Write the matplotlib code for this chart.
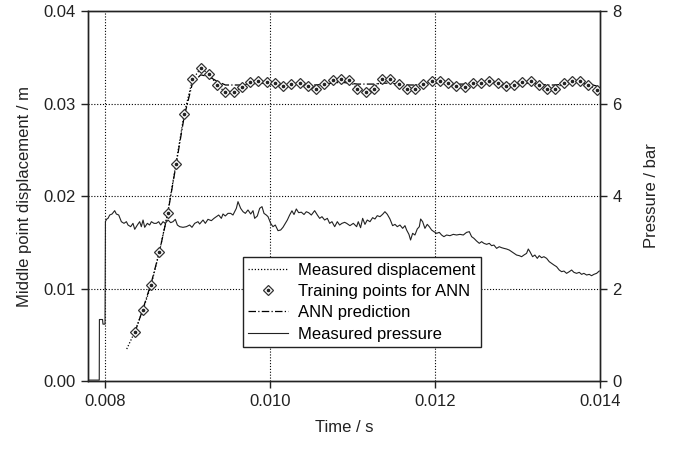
import matplotlib
matplotlib.use("Agg")
import matplotlib.pyplot as plt
from matplotlib.legend_handler import HandlerTuple

plt.rcParams['font.family'] = ['Liberation Sans', 'DejaVu Sans']

# Training points for ANN (time / s, displacement / m)
train_t = [0.00836, 0.00846, 0.00856, 0.00866, 0.00876, 0.00886, 0.00896, 0.00906,
           0.00916, 0.00926, 0.00936, 0.00946, 0.00956, 0.00966, 0.00976, 0.00986,
           0.00996, 0.01006, 0.01016, 0.01026, 0.01036, 0.01046, 0.01056, 0.01066,
           0.01076, 0.01086, 0.01096, 0.01106, 0.01116, 0.01126, 0.01136, 0.01146,
           0.01156, 0.01166, 0.01176, 0.01186, 0.01196, 0.01206, 0.01216, 0.01226,
           0.01236, 0.01246, 0.01256, 0.01266, 0.01276, 0.01286, 0.01296, 0.01306,
           0.01316, 0.01326, 0.01336, 0.01346, 0.01356, 0.01366, 0.01376, 0.01386,
           0.01396]
train_d = [0.0053, 0.0077, 0.0104, 0.0140, 0.0182, 0.0235, 0.0289, 0.0326,
           0.0338, 0.0332, 0.0320, 0.0312, 0.0312, 0.0318, 0.0323, 0.0324,
           0.0323, 0.0322, 0.0319, 0.0321, 0.0322, 0.0319, 0.0316, 0.0321,
           0.0325, 0.0327, 0.0325, 0.0316, 0.0312, 0.0316, 0.0326, 0.0327,
           0.0321, 0.0316, 0.0316, 0.0321, 0.0324, 0.0324, 0.0322, 0.0319,
           0.0318, 0.0322, 0.0322, 0.0324, 0.0322, 0.0319, 0.0320, 0.0323,
           0.0324, 0.0320, 0.0316, 0.0316, 0.0322, 0.0324, 0.0324, 0.0320,
           0.0315]

# Measured displacement (dotted)
meas_t = [0.008263] + train_t
meas_d = [0.00346] + train_d

# ANN prediction
ann_d = [0.0052, 0.0078, 0.0106, 0.0140, 0.0181, 0.0233, 0.0286, 0.0322,
         0.0331, 0.0329, 0.0324, 0.0320, 0.0320, 0.0320, 0.0321, 0.0322,
         0.0322, 0.0322, 0.0321, 0.0321, 0.0321, 0.0320, 0.0320, 0.0321,
         0.0322, 0.0323, 0.0322, 0.0321, 0.0321, 0.0321, 0.0322, 0.0322,
         0.0321, 0.0320, 0.0320, 0.0321, 0.0322, 0.0322, 0.0322, 0.0321,
         0.0321, 0.0321, 0.0322, 0.0322, 0.0322, 0.0321, 0.0321, 0.0322,
         0.0322, 0.0321, 0.0320, 0.0320, 0.0321, 0.0322, 0.0322, 0.0321,
         0.0319]

# Measured pressure (time / s, pressure / bar)
pres_t = [0.00779, 0.00793, 0.007932, 0.00797, 0.007975, 0.00800, 0.008005, 0.00802,
          0.008036, 0.008057, 0.008085, 0.008117, 0.008137, 0.008166, 0.008198, 0.008230,
          0.008259, 0.008279, 0.008311, 0.008339, 0.008360, 0.008392, 0.008420, 0.008440,
          0.008461, 0.008481, 0.008513, 0.008541, 0.008562, 0.008594, 0.008622, 0.008650,
          0.008675, 0.008703, 0.008731, 0.008764, 0.008796, 0.008824, 0.008852, 0.008877,
          0.008905, 0.008945, 0.008986, 0.009026, 0.009054, 0.009087, 0.009127, 0.009147,
          0.009188, 0.009216, 0.009248, 0.009289, 0.009321, 0.009349, 0.009378, 0.009410,
          0.009430, 0.009458, 0.009491, 0.009523, 0.009551, 0.009592, 0.009612, 0.009644,
          0.009673, 0.009701, 0.009733, 0.009766, 0.009794, 0.009814, 0.009846, 0.009875,
          0.009903, 0.009927, 0.009955, 0.009976, 0.010008, 0.010036, 0.010064, 0.010097,
          0.010129, 0.010157, 0.010186, 0.010210, 0.010238, 0.010266, 0.010291, 0.010319,
          0.010347, 0.010380, 0.010412, 0.010440, 0.010468, 0.010501, 0.010541, 0.010574,
          0.010602, 0.010630, 0.010662, 0.010695, 0.010723, 0.010751, 0.010784, 0.010816,
          0.010844, 0.010872, 0.010905, 0.010929, 0.010969, 0.011010, 0.011050, 0.011070,
          0.011098, 0.011123, 0.011151, 0.011179, 0.011212, 0.011244, 0.011272, 0.011300,
          0.011333, 0.011365, 0.011393, 0.011422, 0.011454, 0.011486, 0.011515, 0.011543,
          0.011575, 0.011608, 0.011636, 0.011656, 0.011684, 0.011704, 0.011729, 0.011757,
          0.011785, 0.011810, 0.011826, 0.011850, 0.011878, 0.011906, 0.011931, 0.011959,
          0.011987, 0.012020, 0.012052, 0.012080, 0.012108, 0.012141, 0.012181, 0.012222,
          0.012262, 0.012302, 0.012343, 0.012383, 0.012416, 0.012444, 0.012472, 0.012504,
          0.012537, 0.012565, 0.012593, 0.012626, 0.012658, 0.012686, 0.012714, 0.012747,
          0.012779, 0.012807, 0.012836, 0.012868, 0.012900, 0.012929, 0.012957, 0.012989,
          0.013022, 0.013050, 0.013078, 0.013110, 0.013131, 0.013151, 0.013183, 0.013211,
          0.013240, 0.013264, 0.013292, 0.013320, 0.013353, 0.013385, 0.013413, 0.013442,
          0.013474, 0.013506, 0.013535, 0.013563, 0.013595, 0.013628, 0.013656, 0.013684,
          0.013716, 0.013749, 0.013777, 0.013805, 0.013838, 0.013870, 0.013898, 0.013926,
          0.013959, 0.013991]
pres_p = [0.02, 0.02, 1.33, 1.33, 1.23, 1.23, 3.45, 3.50,
          3.517, 3.589, 3.611, 3.683, 3.611, 3.589, 3.445, 3.409,
          3.445, 3.373, 3.337, 3.409, 3.280, 3.373, 3.445, 3.337,
          3.481, 3.323, 3.409, 3.373, 3.445, 3.409, 3.409, 3.445,
          3.373, 3.445, 3.409, 3.481, 3.424, 3.445, 3.496, 3.373,
          3.337, 3.323, 3.337, 3.373, 3.323, 3.409, 3.445, 3.395,
          3.481, 3.409, 3.496, 3.467, 3.517, 3.553, 3.589, 3.517,
          3.611, 3.568, 3.625, 3.625, 3.589, 3.734, 3.878, 3.734,
          3.661, 3.625, 3.698, 3.611, 3.683, 3.517, 3.568, 3.734,
          3.770, 3.625, 3.589, 3.553, 3.409, 3.337, 3.373, 3.251,
          3.265, 3.323, 3.409, 3.481, 3.589, 3.680, 3.600, 3.720,
          3.640, 3.650, 3.600, 3.660, 3.640, 3.589, 3.683, 3.589,
          3.517, 3.553, 3.481, 3.517, 3.409, 3.445, 3.337, 3.445,
          3.373, 3.409, 3.431, 3.409, 3.359, 3.409, 3.337, 3.445,
          3.315, 3.517, 3.387, 3.481, 3.445, 3.532, 3.503, 3.575,
          3.553, 3.604, 3.661, 3.604, 3.503, 3.359, 3.387, 3.337,
          3.373, 3.301, 3.359, 3.265, 3.171, 3.049, 3.193, 3.157,
          3.287, 3.337, 3.503, 3.445, 3.301, 3.387, 3.337, 3.265,
          3.229, 3.193, 3.214, 3.157, 3.121, 3.157, 3.142, 3.171,
          3.157, 3.171, 3.157, 3.214, 3.229, 3.121, 3.085, 3.027,
          2.977, 3.013, 2.977, 2.955, 2.977, 2.926, 2.940, 2.868,
          2.904, 2.883, 2.868, 2.854, 2.832, 2.796, 2.760, 2.724,
          2.710, 2.688, 2.724, 2.760, 2.854, 2.796, 2.688, 2.724,
          2.652, 2.710, 2.666, 2.688, 2.652, 2.580, 2.544, 2.508,
          2.472, 2.400, 2.364, 2.378, 2.328, 2.364, 2.400, 2.350,
          2.328, 2.350, 2.306, 2.328, 2.292, 2.306, 2.277, 2.306,
          2.328, 2.378]

x_ticks = [0.008, 0.010, 0.012, 0.014]
x_ticklabels = ["0.008", "0.010", "0.012", "0.014"]
y_ticks = [0.00, 0.01, 0.02, 0.03, 0.04]
y_ticklabels = ["0.00", "0.01", "0.02", "0.03", "0.04"]
p_ticks = [0, 2, 4, 6, 8]
p_ticklabels = ["0", "2", "4", "6", "8"]

fig = plt.figure(figsize=(6.73, 4.49), dpi=100)
ax = fig.add_axes([0.1308, 0.1514, 0.7607, 0.8241])
ax2 = ax.twinx()

dot = (0, (1, 1.6))
ax.set_axisbelow(True)
for xv in x_ticks[:-1]:
    ax.axvline(xv, color='black', lw=0.8, ls=dot, zorder=0.5)
for yv in y_ticks[1:-1]:
    ax.axhline(yv, color='black', lw=0.8, ls=dot, zorder=0.5)

l_meas, = ax.plot(meas_t, meas_d, color='black', lw=0.9, ls=(0, (1, 1.5)), zorder=2)
l_ann, = ax.plot(train_t, ann_d, color='black', lw=0.9, ls=(0, (6, 1.8, 1, 1.8)), zorder=2)
l_tr, = ax.plot(train_t, train_d, ls='none', marker='D', ms=5.2, mfc='white',
                mec='#333333', mew=0.9, zorder=3)
l_trd, = ax.plot(train_t, train_d, ls='none', marker='o', ms=1.6, mfc='#222222',
                 mec='#222222', zorder=4)
l_p, = ax2.plot(pres_t, pres_p, color='#222222', lw=0.8, zorder=2)

ax.set_xlim(0.007794, 0.014)
ax.set_ylim(0.0, 0.04)
ax2.set_ylim(0, 8)
ax.set_xticks(x_ticks)
ax.set_xticklabels(x_ticklabels)
ax.set_yticks(y_ticks)
ax.set_yticklabels(y_ticklabels)
ax2.set_yticks(p_ticks)
ax2.set_yticklabels(p_ticklabels)

for a in (ax, ax2):
    a.tick_params(direction='out', length=5, width=1, labelsize=12,
                  colors='#222222', pad=4)
    for s in a.spines.values():
        s.set_linewidth(1.0)
        s.set_color('#222222')

ax.set_xlabel("Time / s", fontsize=12, color='#222222', labelpad=8)
ax.set_ylabel("Middle point displacement / m", fontsize=12, color='#222222', labelpad=8)
ax2.set_ylabel("Pressure / bar", fontsize=12, color='#222222', labelpad=16)

leg = ax2.legend([l_meas, (l_tr, l_trd), l_ann, l_p],
                 ["Measured displacement", "Training points for ANN", "ANN prediction",
                  "Measured pressure"],
                 handler_map={tuple: HandlerTuple(ndivide=1)},
                 loc='lower left', bbox_to_anchor=(0.303, 0.092), fontsize=12,
                 frameon=True, fancybox=False, framealpha=1, edgecolor='#222222',
                 handlelength=2.4, handletextpad=0.6, labelspacing=0.38,
                 borderpad=0.32, borderaxespad=0)
leg.get_frame().set_linewidth(1.0)
leg.set_zorder(10)

fig.savefig("out.png", dpi=100)
